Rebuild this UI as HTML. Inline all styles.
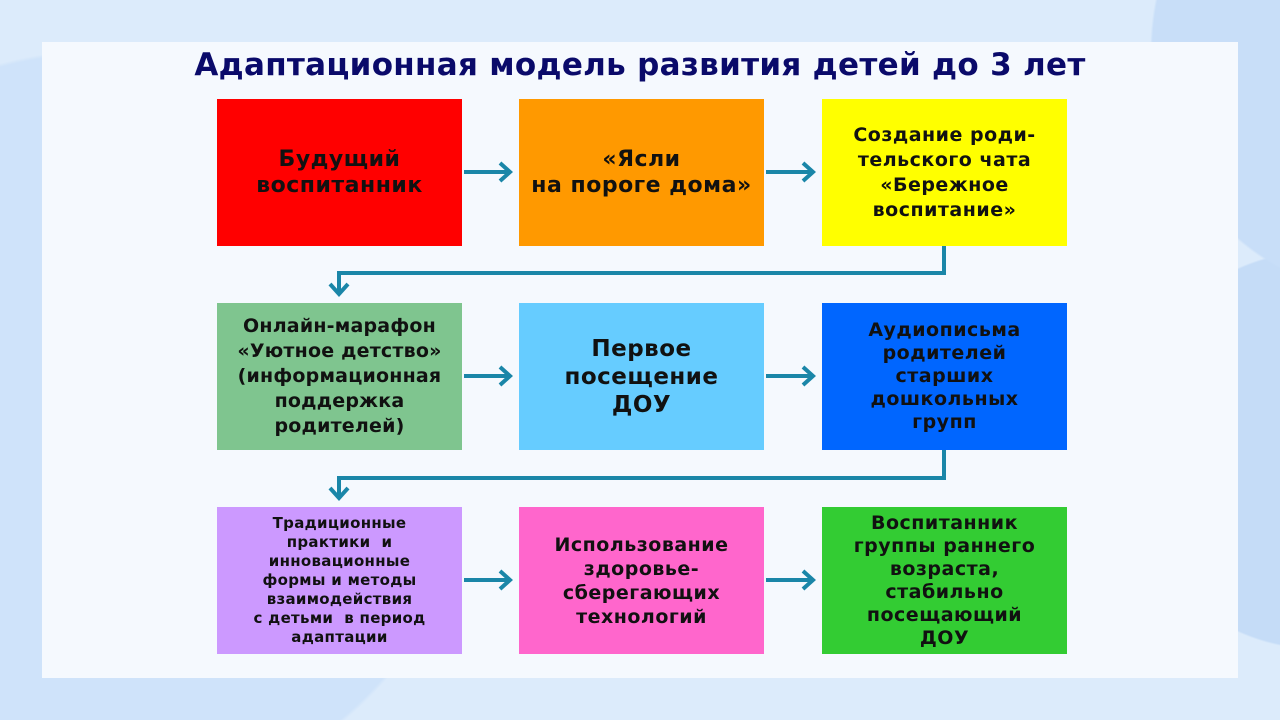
<!DOCTYPE html>
<html style="margin:0;width:1280px;height:720px;overflow:hidden"><head><meta charset="utf-8"><style>
body{margin:0;width:1280px;height:720px;overflow:hidden;font-family:"DejaVu Sans","Liberation Sans",sans-serif}
#w{position:relative;width:1280px;height:720px;overflow:hidden;background:
radial-gradient(circle 380px at 100px 430px,#cfe3fa 99%,transparent 100%),
radial-gradient(circle 250px at 1400px 50px,#c8def8 99%,transparent 100%),
radial-gradient(circle 200px at 1320px 450px,#c5dcf7 99%,transparent 100%),
#dcebfb}
.panel{position:absolute;left:42px;top:42px;width:1196px;height:636px;background:#f5f9fe}
.t{position:absolute;left:0;top:47px;width:1280px;text-align:center;font-weight:bold;font-size:31px;color:#0a0a6a;letter-spacing:0.3px}
.b{position:absolute;width:245px;height:147px;display:flex;align-items:center;justify-content:center;text-align:center;font-weight:bold;font-size:22px;line-height:26px;color:#111;letter-spacing:0.5px;white-space:nowrap}
svg{position:absolute;left:0;top:0}
</style></head><body><div id="w">
<div class="panel"></div>
<div class="t">Адаптационная модель развития детей до 3 лет</div>
<div class="b" style="left:217px;top:99px;background:#ff0000">Будущий<br>воспитанник</div>
<div class="b" style="left:519px;top:99px;background:#ff9900">«Ясли<br>на пороге дома»</div>
<div class="b" style="left:822px;top:99px;background:#ffff00;font-size:19px;line-height:25px">Создание роди-<br>тельского чата<br>«Бережное<br>воспитание»</div>
<div class="b" style="left:217px;top:303px;background:#7fc58f;font-size:19px;line-height:25px;letter-spacing:0.2px">Онлайн-марафон<br>«Уютное детство»<br>(информационная<br>поддержка<br>родителей)</div>
<div class="b" style="left:519px;top:303px;background:#66ccff;font-size:23px;line-height:28px">Первое<br>посещение<br>ДОУ</div>
<div class="b" style="left:822px;top:303px;background:#0066ff;font-size:19px;line-height:23px">Аудиописьма<br>родителей<br>старших<br>дошкольных<br>групп</div>
<div class="b" style="left:217px;top:507px;background:#cc99ff;font-size:15px;line-height:19px;letter-spacing:0.3px">Традиционные<br>практики&nbsp; и<br>инновационные<br>формы и методы<br>взаимодействия<br>с детьми&nbsp; в период<br>адаптации</div>
<div class="b" style="left:519px;top:507px;background:#ff66cc;font-size:19px;line-height:24px">Использование<br>здоровье-<br>сберегающих<br>технологий</div>
<div class="b" style="left:822px;top:507px;background:#33cc33;font-size:19px;line-height:23px">Воспитанник<br>группы раннего<br>возраста,<br>стабильно<br>посещающий<br>ДОУ</div>
<svg width="1280" height="720" fill="none" stroke="#1a86a8" stroke-width="4">
<g><path d="M464 172H510M500 163l10 9-10 9"/><path d="M766 172H813M803 163l10 9-10 9"/>
<path d="M464 376H510M500 367l10 9-10 9"/><path d="M766 376H813M803 367l10 9-10 9"/>
<path d="M464 580H510M500 571l10 9-10 9"/><path d="M766 580H813M803 571l10 9-10 9"/>
<path d="M944 246V273H339V294M330 284l9 10 9-10"/>
<path d="M944 450V478H339V498M330 488l9 10 9-10"/></g>
</svg>
</div></body></html>
